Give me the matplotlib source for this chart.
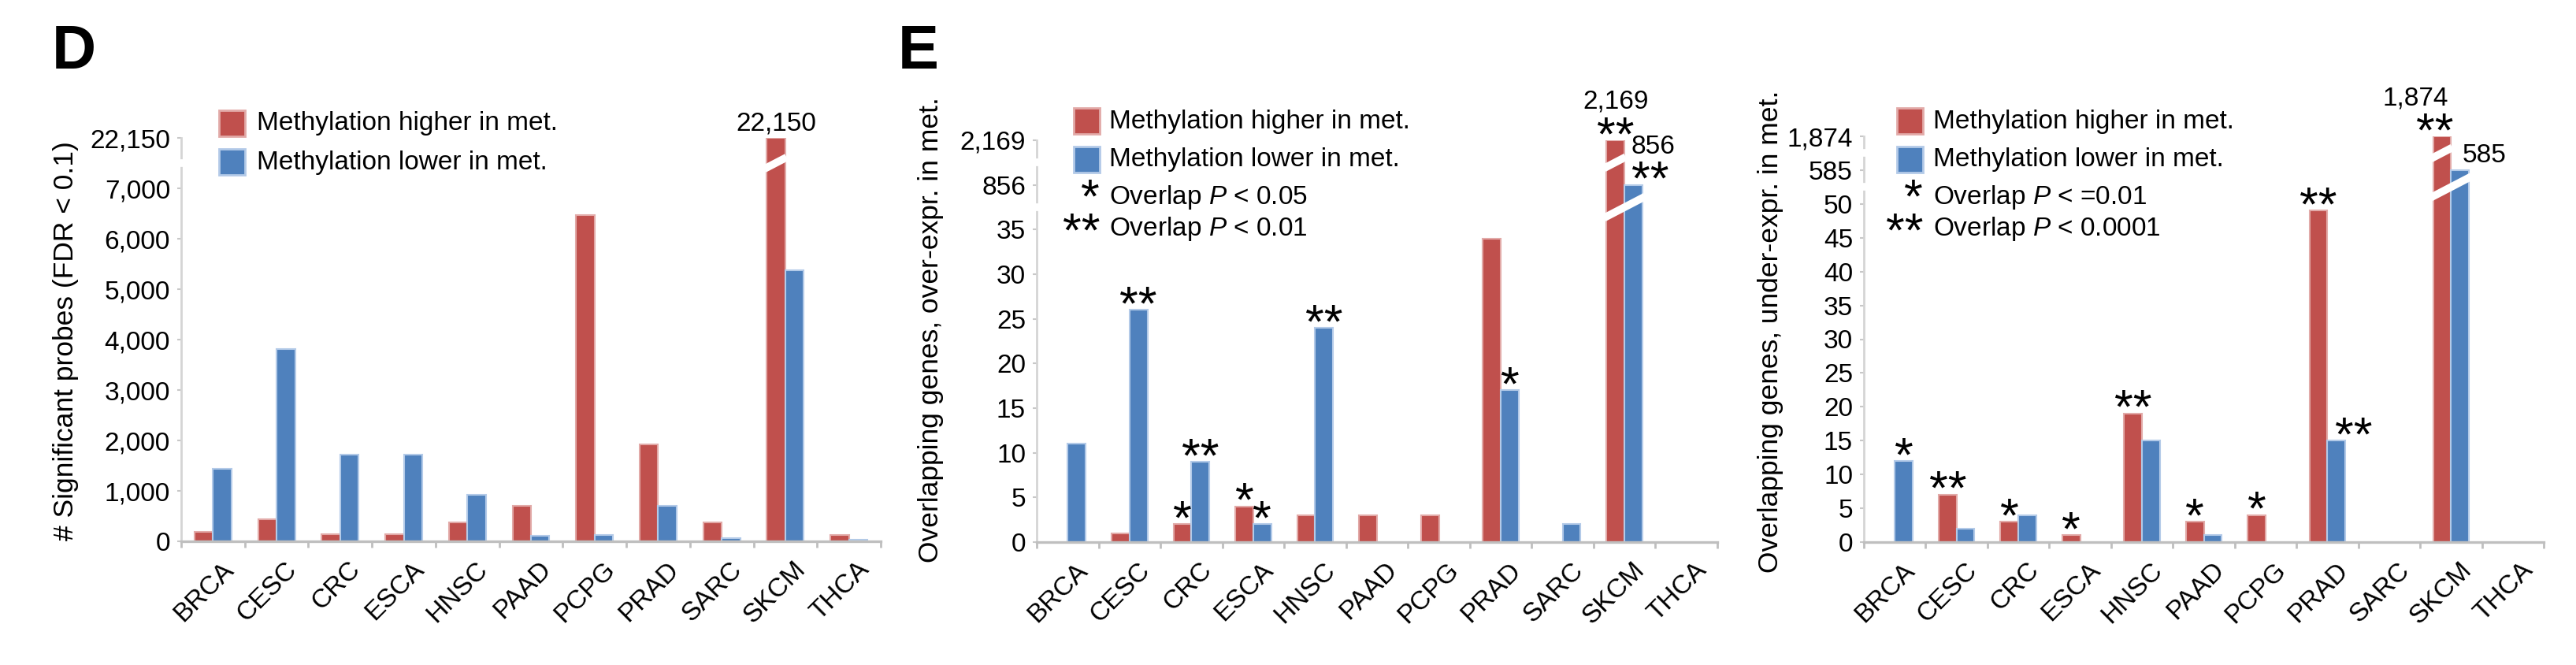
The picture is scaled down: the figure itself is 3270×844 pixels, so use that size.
import numpy as np
import matplotlib
matplotlib.use('Agg')
import matplotlib.pyplot as plt
from matplotlib.patches import Rectangle
from matplotlib import transforms

plt.rcParams['font.family'] = ['Liberation Sans', 'DejaVu Sans']
plt.rcParams['mathtext.fontset'] = 'custom'
plt.rcParams['mathtext.rm'] = 'Liberation Sans'
plt.rcParams['mathtext.it'] = 'Liberation Sans:italic'

W, H = 3270, 844
RED = '#C0504D'
BLUE = '#4F81BD'
RED_EDGE = '#E2AAA8'
BLUE_EDGE = '#B3CAE8'

cancers = ['BRCA', 'CESC', 'CRC', 'ESCA', 'HNSC', 'PAAD', 'PCPG', 'PRAD', 'SARC', 'SKCM', 'THCA']

# D: significant probes
d_higher = [180, 440, 140, 140, 380, 710, 6470, 1920, 380, 22150, 130]
d_lower = [1430, 3810, 1720, 1720, 925, 110, 130, 700, 60, 5375, 25]

# E left: overlapping genes, over-expressed in met.
over_higher = [0, 1, 2, 4, 3, 3, 3, 34, 0, 2169, 0]
over_lower = [11, 26, 9, 2, 24, 0, 0, 17, 2, 856, 0]
over_higher_sig = ['', '', '*', '*', '', '', '', '', '', '**', '']
over_lower_sig = ['', '**', '**', '*', '**', '', '', '*', '', '**', '']

# E right: overlapping genes, under-expressed in met.
under_higher = [0, 7, 3, 1, 19, 3, 4, 49, 0, 1874, 0]
under_lower = [12, 2, 4, 0, 15, 1, 0, 15, 0, 585, 0]
under_higher_sig = ['', '**', '*', '*', '**', '*', '*', '**', '', '**', '']
under_lower_sig = ['*', '', '', '', '', '', '', '**', '', '', '']

fig = plt.figure(figsize=(W / 100, H / 100), dpi=100)


def px2pt(p):
    return p * 0.72


def to_pos(v, lin_max, step, breaks):
    # linear up to lin_max, then one tick step per broken value
    if v <= lin_max:
        return v / step
    return lin_max / step + 1 + breaks.index(v)


def draw_panel(box, higher, lower, lin_max, step, breaks, hsig, lsig, shifts):
    left, top, right, bottom = box
    ax = fig.add_axes([left / W, 1 - bottom / H, (right - left) / W, (bottom - top) / H])
    n = len(cancers)
    x = np.arange(n)
    w = 0.29
    hp = [to_pos(v, lin_max, step, breaks) for v in higher]
    lp = [to_pos(v, lin_max, step, breaks) for v in lower]
    ax.bar(x - w / 2, hp, w, color=RED, edgecolor=RED_EDGE,
           linewidth=[1.5 if v > 0 else 0 for v in higher], zorder=3)
    ax.bar(x + w / 2, lp, w, color=BLUE, edgecolor=BLUE_EDGE,
           linewidth=[1.5 if v > 0 else 0 for v in lower], zorder=3)

    nlin = lin_max / step
    ytop = nlin + len(breaks)
    ax.set_xlim(-0.5, n - 0.5)
    ax.set_ylim(0, ytop)
    px_x = (right - left) / n
    px_y = (bottom - top) / ytop

    # break slashes across bars taller than the linear part
    for i in range(n):
        for k in range(len(breaks)):
            lvl = nlin + 0.5 + k
            xs = []
            if hp[i] > lvl:
                xs += [i - w - 0.04, i + 0.02]
            if lp[i] > lvl:
                xs += [i - 0.02, i + w + 0.04]
            if not xs:
                continue
            x0, x1 = min(xs), max(xs)
            dy = 0.52 * (x1 - x0) * px_x / px_y
            ax.plot([x0, x1], [lvl - dy / 2, lvl + dy / 2], color='white',
                    lw=7, solid_capstyle='butt', zorder=4)
    # gaps in the y axis line
    tr = transforms.blended_transform_factory(ax.transAxes, ax.transData)
    for k in range(len(breaks)):
        ax.plot([-0.012, 0.012], [nlin + 0.5 + k] * 2, color='white', lw=7,
                transform=tr, clip_on=False, zorder=6)

    ticks = np.arange(int(ytop) + 1)
    labels = [f'{int(t * step):,}' for t in ticks[:int(nlin) + 1]] + [f'{b:,}' for b in breaks]
    ax.set_yticks(ticks)
    ax.set_yticklabels(labels, fontsize=24)
    ax.set_xticks(x)
    ax.set_xticklabels(cancers, fontsize=24, rotation=45, ha='right', rotation_mode='anchor')
    ax.set_xticks(np.arange(-0.5, n, 1.0), minor=True)
    ax.tick_params(axis='x', which='major', length=0, pad=px2pt(20))
    ax.tick_params(axis='x', which='minor', length=px2pt(8), width=2, color='#BFBFBF', direction='out')
    ax.tick_params(axis='y', length=px2pt(5), width=1.5, color='#C8C8C8', pad=px2pt(9))
    for lab in ax.get_xticklabels():
        lab.set_transform(lab.get_transform() + transforms.ScaledTranslation(0.10, 0, fig.dpi_scale_trans))
    for s in ['top', 'right']:
        ax.spines[s].set_visible(False)
    ax.spines['left'].set_color('#D5D5D5')
    ax.spines['left'].set_linewidth(2)
    ax.spines['bottom'].set_color('#BFBFBF')
    ax.spines['bottom'].set_linewidth(2.4)
    ax.spines['bottom'].set_zorder(5)

    # significance stars, and values above the broken bars
    for series, pos, vals, sigs, dx in [('h', hp, higher, hsig, -w / 2), ('l', lp, lower, lsig, w / 2)]:
        for i in range(n):
            s = sigs[i] if sigs else ''
            sx, nx = shifts.get((series, i), (0, 0))
            if s:
                ax.annotate(s, xy=(i + dx, pos[i]), xytext=(px2pt(sx), px2pt(-12)),
                            textcoords='offset points', ha='center', va='baseline',
                            fontsize=44, zorder=7)
            if vals[i] in breaks:
                rise = 40 if s else 10
                ax.annotate(f'{vals[i]:,}', xy=(i + dx, pos[i]), xytext=(px2pt(nx), px2pt(rise)),
                            textcoords='offset points', ha='center', va='baseline',
                            fontsize=24, zorder=7)
    return ax


def legend(x_sq, y_red, y_blue, x_txt, star_lines=None):
    for y, c, e, t in [(y_red, RED, RED_EDGE, 'Methylation higher in met.'),
                       (y_blue, BLUE, BLUE_EDGE, 'Methylation lower in met.')]:
        fig.add_artist(Rectangle((x_sq / W, 1 - (y + 33) / H), 33 / W, 33 / H,
                                 transform=fig.transFigure, facecolor=c, edgecolor=e, lw=2))
        fig.text(x_txt / W, 1 - (y + 17) / H, t, fontsize=24, ha='left', va='center')
    if star_lines:
        # one text for the star column, anchored on its last line
        stars = '\n'.join(s for _, s, _ in star_lines)
        fig.text((x_sq + 33) / W, 1 - (star_lines[-1][0] + 22) / H, stars, fontsize=44,
                 ha='right', va='baseline', multialignment='right', linespacing=0.667)
        for yc, _, txt in star_lines:
            fig.text(x_txt / W, 1 - yc / H, txt, fontsize=24, ha='left', va='center')


draw_panel((230, 175, 1118, 687), d_higher, d_lower, 7000, 1000, [22150], None, None, {})
draw_panel((1316, 178, 2180, 688), over_higher, over_lower, 35, 5, [856, 2169],
           over_higher_sig, over_lower_sig, {('l', 9): (21, 25)})
draw_panel((2366, 173, 3229, 688), under_higher, under_lower, 50, 5, [585, 1874],
           under_higher_sig, under_lower_sig, {('h', 9): (-9, -34), ('l', 9): (0, 31), ('l', 7): (22, 0)})

legend(278, 140, 189, 326)
legend(1363, 137, 186, 1408, [(250, '*', 'Overlap $P$ < 0.05'), (290, '**', 'Overlap $P$ < 0.01')])
legend(2408, 137, 186, 2454, [(250, '*', 'Overlap $P$ < =0.01'), (290, '**', 'Overlap $P$ < 0.0001')])

fig.text(83 / W, 1 - 433 / H, '# Significant probes (FDR < 0.1)', rotation=90,
         ha='center', va='center', fontsize=25.5)
fig.text(1181 / W, 1 - 419 / H, 'Overlapping genes, over-expr. in met.', rotation=90,
         ha='center', va='center', fontsize=25.5)
fig.text(2247 / W, 1 - 421 / H, 'Overlapping genes, under-expr. in met.', rotation=90,
         ha='center', va='center', fontsize=25.5)

fig.text(66 / W, 1 - 87 / H, 'D', fontsize=56, fontweight='bold', ha='left', va='baseline')
fig.text(1140 / W, 1 - 87 / H, 'E', fontsize=56, fontweight='bold', ha='left', va='baseline')

fig.savefig('out.png', dpi=100)
